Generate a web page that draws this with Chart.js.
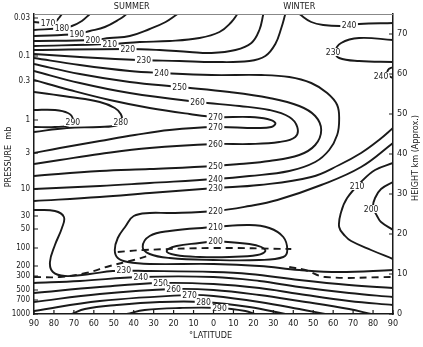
<!DOCTYPE html>
<html>
<head>
<meta charset="utf-8">
<script src="https://cdn.jsdelivr.net/npm/chart.js@4.4.1/dist/chart.umd.min.js"></script>
<style>
  html, body { margin: 0; padding: 0; background: #fff; }
</style>
</head>
<body>
<canvas id="chart" width="423" height="347"></canvas>
<script>
// Isotherms in kelvin, each point is [latitude, height km].
// Negative latitude = summer hemisphere (drawn on the left).
const t170 = [[-90,73],[-83,72.75],[-79.5,73],[-77.5,74],[-76,75]];
const t180 = [[-90,71],[-76,71.5],[-71,72],[-66,73.25],[-62,75]];
const t190 = [[-90,69.5],[-68.5,70],[-62,70.75],[-54.5,71.75],[-47,73.75],[-43.5,75]];
const t200 = [[-90,68.25],[-60.5,68.5],[-52,69],[-42,69.5],[-32,71.25],[-24,73],[-18,75]];
const t210 = [[-90,67],[-52,67.5],[-37,68],[-22,68.25],[-7,69],[3,70.5],[9,73],[12,75]];
const t220 = [[-90,66],[-43,66.25],[-27,66],[-12,65.5],[-1,65.25],[11,66],[19,67.75],[23,71],[25,75]];
const t230 = [[-90,65],[-67,64.25],[-38,63.5],[-17,63.25],[0,63],[18,63.25],[26,64.5],[31,67.5],[34,71.5],[36,75]];
const t240 = [[-90,64],[-67,62.25],[-42,60.75],[-26,60.25],[-1,59.75],[24,59.75],[38,59.25],[49,57.75],[57,55.25],[62,52.25],[63,48.5],[62,44.75],[58,41],[51,38],[38,35.75],[18,34.5],[1,33.75],[-32,32.75],[-57,32],[-90,31.25]];
const t250 = [[-90,62.5],[-67,60],[-42,58],[-17,56.75],[8,55.5],[28,54],[43,52],[51,49.5],[54,46],[51,42.25],[43,39.75],[28,38.25],[13,37.5],[1,37],[-32,36.25],[-57,35.75],[-90,34.5]];
const t260 = [[-90,60.75],[-67,57.75],[-42,55.25],[-8,53],[13,52],[28,51],[38,49.25],[42,46.75],[41,44.25],[33,43],[18,42.5],[1,42.5],[-32,41.5],[-57,40],[-77,38.5],[-90,37.5]];
const t270 = [[-90,58.5],[-72,56],[-52,53.5],[-32,51.5],[-12,50],[1,49.25],[18,49.25],[27,48.75],[31,47.75],[29,46.75],[21,46.5],[1,46.75],[-22,46],[-39.5,44.75],[-57,43.25],[-77,41.5],[-90,40.25]];
const t280 = [[-90,55.5],[-72,54.25],[-57,53],[-49.5,51.5],[-46.5,50],[-46,48.5],[-48,47.25],[-57,46.75],[-73.5,46.5],[-90,45.5]];
const t290 = [[-90,51],[-79.5,51],[-73,50.25],[-70.5,48.75],[-72,47.25],[-79.5,46.75],[-90,46.75]];

// lower stratosphere and tropical tropopause
const t230mid = [[-90,28.25],[-57,29.25],[-32,30.25],[1,31.5],[23,32.25],[49,34.25],[63,37.25],[74,40.25],[83,43.5],[90,46.5]];
const t220low = [[90,42.75],[74,36.75],[54,32.25],[32,28.5],[18,27],[1,25.75],[-22,25.25],[-32,25.25],[-40,24.5],[-44,22],[-48,19],[-49.5,16],[-48,14],[-43,13],[-32,12.5],[0,12.5],[23,12],[43,11],[63,10.5],[90,11]];
const t210low = [[0,21.75],[18,22.25],[28,21.5],[35,19.25],[37,16],[35,14.25],[23,13.5],[0,13.5],[-22,14],[-32,15],[-35.5,16.75],[-32,19.5],[-22,20.75],[0,21.75]];
const t200low = [[1,18.25],[18,17.5],[24,16.75],[26,15.75],[22,14.75],[8,14.25],[-7,14.25],[-19,14.75],[-23.5,15.75],[-18.5,17],[-7,17.75],[1,18.25]];
const t230trop = [[-90,26],[-79.5,25.75],[-75,24.25],[-76,21.5],[-79.5,17.25],[-82,13],[-80.5,10.5],[-74.5,9.5],[-62,10],[-50.5,10.75],[-32,10.75],[0,10.5],[18,10],[43,8.5],[68,7.25],[90,6.5]];

// troposphere
const t240b = [[-90,7.75],[-67,8.25],[-36.5,9.25],[0,9.25],[23,8.25],[43,6.75],[68,5.25],[90,4.25]];
const t250b = [[-90,5.25],[-57,6.75],[-26.5,7.75],[0,7.5],[23,6.5],[43,5],[68,3.25],[90,2.25]];
const t260b = [[-90,3],[-57,5],[-20,6.25],[0,6],[23,4.75],[43,3.25],[68,1.25],[79,0]];
const t270b = [[-90,0.75],[-57,3.25],[-12,4.75],[0,4.5],[23,3],[43,1.25],[56,0]];
const t280b = [[-71,0],[-64.5,1.25],[-48.5,2.25],[-27,3],[-5,3],[18,1.75],[36,0]];
const t290b = [[-43.5,0],[-34.5,1],[-17,1.5],[3,1.5],[16,0.75],[21,0]];

// winter pole
const t210w = [[90,37.75],[81,36],[74,33],[67,29],[64,25.5],[63,21.75],[66,19.5],[69,18.25],[79,16],[90,13.75]];
const t200w = [[90,33],[84,31.25],[81,29],[80,26.75],[82,24.5],[84,23],[90,21]];
const t240top = [[43,75],[49,73],[55,72.25],[65,72],[73,72.5],[90,72.75]];
const t230cap = [[90,68.5],[73,69],[64,67.75],[61,65.5],[63,64],[73,63.25],[90,63]];
const t240cap = [[90,61.75],[87.5,61],[87.5,59.75],[90,59]];

// tropopause (dashed)
const tropSummer = [[-90,9.25],[-77,9.25],[-64,10.25],[-52,12],[-40,13.5],[-33,14.5]];
const tropTropics = [[-48,15.5],[-35,16],[0,16.5],[39,16.25]];
const tropWinter = [[38,11.75],[46,11],[56,9.25],[90,9.25]];

const contourLabels = [
  [-83,72.75,'170'],[-76,71.5,'180'],[-68.5,70,'190'],[-60.5,68.5,'200'],[-52,67.5,'210'],
  [-43,66.25,'220'],[-35,63.5,'230'],[-26,60.25,'240'],[-17,56.75,'250'],[-8,53,'260'],
  [1,49.25,'270'],[1,46.75,'270'],[-70.5,48,'290'],[-46.5,48,'280'],
  [1,42.5,'260'],[1,37,'250'],[1,33.75,'240'],[1,31.5,'230'],[1,25.75,'220'],[1,21.75,'210'],[1,18.25,'200'],
  [-45,11,'230'],[-36.5,9.25,'240'],[-26.5,7.75,'250'],[-20,6.25,'260'],[-12,4.75,'270'],[-5,3,'280'],[3,1.5,'290'],
  [68,72.25,'240'],[60,65.5,'230'],[84,59.5,'240'],[72,32,'210'],[79,26.25,'200']
];

const pressureLabels = ['0.03','0.1','0.3','1','3','10','30','50','100','200','300','500','700','1000'];
const pressureKm = [74, 64.5, 58.25, 48.5, 40.25, 31.25, 24.5, 21.25, 16.5, 12, 9.5, 6, 3.5, 0];
const heightTicks = [0, 10, 20, 30, 40, 50, 60, 70];
const latTicks = [-90,-80,-70,-60,-50,-40,-30,-20,-10,0,10,20,30,40,50,60,70,80,90];

const solidLines = [t170,t180,t190,t200,t210,t220,t230,t240,t250,t260,t270,t280,t290,
  t230mid,t220low,t210low,t200low,t230trop,
  t240b,t250b,t260b,t270b,t280b,t290b,
  t210w,t200w,t240top,t230cap,t240cap];
const dashedLines = [tropSummer, tropTropics, tropWinter];

const family = "'Liberation Sans Narrow', 'DejaVu Sans Condensed', sans-serif";
const ink = '#1a1a1a';

function toXY(pts) {
  return pts.map(p => ({x: p[0], y: p[1]}));
}

const datasets = solidLines.map(pts => ({
  data: toXY(pts), showLine: true, pointRadius: 0, borderColor: ink,
  borderWidth: 1.9, tension: 0.4, fill: false
})).concat(dashedLines.map(pts => ({
  data: toXY(pts), showLine: true, pointRadius: 0, borderColor: ink,
  borderWidth: 1.9, borderDash: [7, 5], tension: 0.4, fill: false
})));

const decorations = {
  id: 'decorations',
  afterDatasetsDraw(chart) {
    const {ctx, scales} = chart;
    ctx.save();
    ctx.font = '8.5px ' + family;
    ctx.textAlign = 'center';
    ctx.textBaseline = 'middle';
    contourLabels.forEach(([lat, km, txt]) => {
      const px = scales.x.getPixelForValue(lat);
      const py = scales.y.getPixelForValue(km);
      const w = ctx.measureText(txt).width + 3;
      ctx.fillStyle = '#fff';
      ctx.fillRect(px - w / 2, py - 4, w, 8);
      ctx.fillStyle = ink;
      ctx.fillText(txt, px, py + 0.5);
    });
    ctx.restore();
  },
  afterDraw(chart) {
    const {ctx, chartArea: a, scales} = chart;
    ctx.save();
    // thin top frame line
    ctx.strokeStyle = '#888';
    ctx.lineWidth = 1;
    ctx.beginPath();
    ctx.moveTo(a.left, a.top + 0.5);
    ctx.lineTo(a.right, a.top + 0.5);
    ctx.stroke();

    // inward tick marks
    ctx.strokeStyle = ink;
    ctx.lineWidth = 1.2;
    ctx.beginPath();
    pressureKm.forEach(km => {
      const py = scales.y.getPixelForValue(km);
      ctx.moveTo(a.left, py); ctx.lineTo(a.left + 4, py);
    });
    heightTicks.forEach(km => {
      const py = scales.yr.getPixelForValue(km);
      ctx.moveTo(a.right - 4, py); ctx.lineTo(a.right, py);
    });
    latTicks.forEach(v => {
      const px = scales.x.getPixelForValue(v);
      ctx.moveTo(px, a.bottom); ctx.lineTo(px, a.bottom - 4);
    });
    ctx.stroke();

    // titles
    ctx.fillStyle = ink;
    ctx.font = '9px ' + family;
    ctx.textAlign = 'center';
    ctx.textBaseline = 'middle';
    ctx.fillText('SUMMER', scales.x.getPixelForValue(-41), 7);
    ctx.fillText('WINTER', scales.x.getPixelForValue(43), 7);
    ctx.fillText('°LATITUDE', scales.x.getPixelForValue(-1.5), 336);

    ctx.save();
    ctx.translate(9, 157);
    ctx.rotate(-Math.PI / 2);
    ctx.fillText('PRESSURE  mb', 0, 0);
    ctx.restore();

    ctx.save();
    ctx.translate(416, 158);
    ctx.rotate(-Math.PI / 2);
    ctx.fillText('HEIGHT km (Approx.)', 0, 0);
    ctx.restore();

    ctx.restore();
  }
};

new Chart(document.getElementById('chart'), {
  type: 'scatter',
  data: { datasets: datasets },
  options: {
    responsive: false,
    animation: false,
    devicePixelRatio: 1,
    layout: { padding: { top: 14, left: 0, right: 0, bottom: 0 } },
    plugins: { legend: { display: false }, tooltip: { enabled: false } },
    scales: {
      x: {
        type: 'linear', position: 'bottom', min: -90, max: 90,
        afterFit: s => { s.height = 33; },
        afterBuildTicks: s => { s.ticks = latTicks.map(v => ({value: v})); },
        grid: { display: false, drawTicks: false },
        border: { display: true, color: ink, width: 1.5 },
        ticks: {
          autoSkip: false, maxRotation: 0, padding: 4, color: ink,
          font: { family: family, size: 9 },
          callback: v => Math.abs(v)
        }
      },
      y: {
        type: 'linear', position: 'left', min: 0, max: 75,
        afterFit: s => { s.width = 34; },
        afterBuildTicks: s => { s.ticks = pressureKm.map(v => ({value: v})); },
        grid: { display: false, drawTicks: false },
        border: { display: true, color: ink, width: 1.5 },
        ticks: {
          autoSkip: false, padding: 4, color: ink,
          font: { family: family, size: 8 },
          callback: (v, i) => pressureLabels[i]
        }
      },
      yr: {
        type: 'linear', position: 'right', min: 0, max: 75,
        afterFit: s => { s.width = 30; },
        afterBuildTicks: s => { s.ticks = heightTicks.map(v => ({value: v})); },
        grid: { display: false, drawTicks: false },
        border: { display: true, color: ink, width: 1.5 },
        ticks: {
          autoSkip: false, padding: 4, color: ink,
          font: { family: family, size: 9 }
        }
      }
    }
  },
  plugins: [decorations]
});
</script>
</body>
</html>
